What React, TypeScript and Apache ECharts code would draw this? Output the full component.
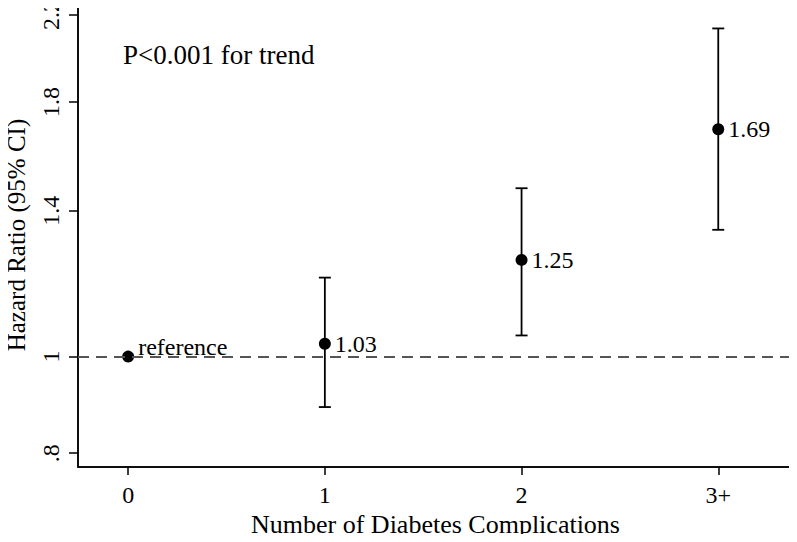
import React, { useEffect, useRef } from "react";
import * as echarts from "echarts";

const categories = ["0", "1", "2", "3+"];
const xPositions = [0, 1, 2, 3];
const hazardRatios = [1.0, 1.03, 1.25, 1.69];
const ciLower = [null, 0.89, 1.05, 1.34];
const ciUpper = [null, 1.2, 1.475, 2.133];
const pointLabels = ["reference", "1.03", "1.25", "1.69"];
const yTickValues = [0.8, 1, 1.4, 1.8, 2.2];
const yTickLabels = [".8", "1", "1.4", "1.8", "2.2"];
const annotation = "P<0.001 for trend";

const FONT = '"Liberation Serif", "Times New Roman", Times, serif';

export default function App() {
  const ref = useRef<HTMLDivElement>(null);
  useEffect(() => {
    if (!ref.current) return;
    const chart = echarts.init(ref.current, null, { renderer: "svg" });
    const ln = Math.log;
    const yTicksLn = yTickValues.map((v) => ln(v));
    const yLabelFor = (v: number) => {
      let best = 0;
      let bd = Infinity;
      yTicksLn.forEach((t, i) => {
        const d = Math.abs(t - v);
        if (d < bd) {
          bd = d;
          best = i;
        }
      });
      return yTickLabels[best];
    };
    const xLabelFor = (v: number) => {
      const i = xPositions.findIndex((p) => Math.abs(p - v) < 1e-6);
      return i >= 0 ? categories[i] : "";
    };

    const pointData = xPositions.map((x, i) => ({
      value: [x, ln(hazardRatios[i])],
      label: {
        formatter: pointLabels[i],
        offset: i === 0 ? [0, -10] : [0, 0],
      },
    }));

    const errData: any[] = [];
    xPositions.forEach((x, i) => {
      if (ciLower[i] != null && ciUpper[i] != null) {
        errData.push([x, ln(ciLower[i] as number), ln(ciUpper[i] as number)]);
      }
    });

    const option: any = {
      animation: false,
      backgroundColor: "#fff",
      textStyle: { fontFamily: FONT, color: "#000" },
      grid: {
        left: 78,
        right: 4,
        top: 3,
        bottom: 75,
        containLabel: false,
        outerBoundsMode: "none",
        show: true,
        borderColor: "#000",
        borderWidth: 1.5,
        backgroundColor: "transparent",
      },
      xAxis: {
        type: "value",
        min: -0.255,
        max: 3.38,
        name: "Number of Diabetes Complications",
        nameLocation: "middle",
        nameGap: 40,
        nameTextStyle: { fontFamily: FONT, fontSize: 26, color: "#000" },
        axisLine: { show: true, onZero: false, lineStyle: { color: "#000", width: 1.5 } },
        axisTick: {
          show: true,
          length: 8,
          customValues: xPositions,
          lineStyle: { color: "#000", width: 1.5 },
        },
        axisLabel: {
          customValues: xPositions,
          formatter: (v: number) => xLabelFor(v),
          fontFamily: FONT,
          fontSize: 24,
          color: "#000",
          margin: 16,
        },
        splitLine: { show: false },
      },
      yAxis: {
        type: "value",
        min: ln(0.775),
        max: ln(2.262),
        name: "Hazard Ratio (95% CI)",
        nameLocation: "middle",
        nameGap: 49,
        nameTextStyle: { fontFamily: FONT, fontSize: 25, color: "#000" },
        axisLine: { show: true, onZero: false, lineStyle: { color: "#000", width: 1.5 } },
        axisTick: {
          show: true,
          length: 9,
          customValues: yTicksLn,
          lineStyle: { color: "#000", width: 1.5 },
        },
        axisLabel: {
          customValues: yTicksLn,
          formatter: (v: number) => yLabelFor(v),
          rotate: 90,
          fontFamily: FONT,
          fontSize: 24,
          color: "#000",
          margin: 15,
        },
        splitLine: { show: false },
      },
      graphic: [
        {
          type: "text",
          left: 123,
          top: 41,
          style: {
            text: annotation,
            fontFamily: FONT,
            fontSize: 27,
            fill: "#000",
          },
        },
      ],
      series: [
        {
          type: "custom",
          data: errData,
          z: 2,
          renderItem: (params: any, api: any) => {
            const x = api.value(0);
            const lo = api.coord([x, api.value(1)]);
            const hi = api.coord([x, api.value(2)]);
            const cap = 6;
            const style = { stroke: "#000", lineWidth: 1.8 };
            return {
              type: "group",
              children: [
                { type: "line", shape: { x1: lo[0], y1: lo[1], x2: hi[0], y2: hi[1] }, style },
                { type: "line", shape: { x1: lo[0] - cap, y1: lo[1], x2: lo[0] + cap, y2: lo[1] }, style },
                { type: "line", shape: { x1: hi[0] - cap, y1: hi[1], x2: hi[0] + cap, y2: hi[1] }, style },
              ],
            };
          },
        },
        {
          type: "scatter",
          data: pointData,
          symbol: "circle",
          symbolSize: 12,
          z: 3,
          itemStyle: { color: "#000", opacity: 1 },
          label: {
            show: true,
            position: "right",
            distance: 4,
            fontFamily: FONT,
            fontSize: 24,
            color: "#000",
          },
          markLine: {
            silent: true,
            symbol: "none",
            label: { show: false },
            lineStyle: { color: "#555", type: [11, 7], width: 2, opacity: 1 },
            data: [{ yAxis: 0 }],
          },
        },
      ],
    };
    chart.setOption(option);
    return () => chart.dispose();
  }, []);
  return <div ref={ref} style={{ width: 797, height: 542, margin: -8 }} />;
}
